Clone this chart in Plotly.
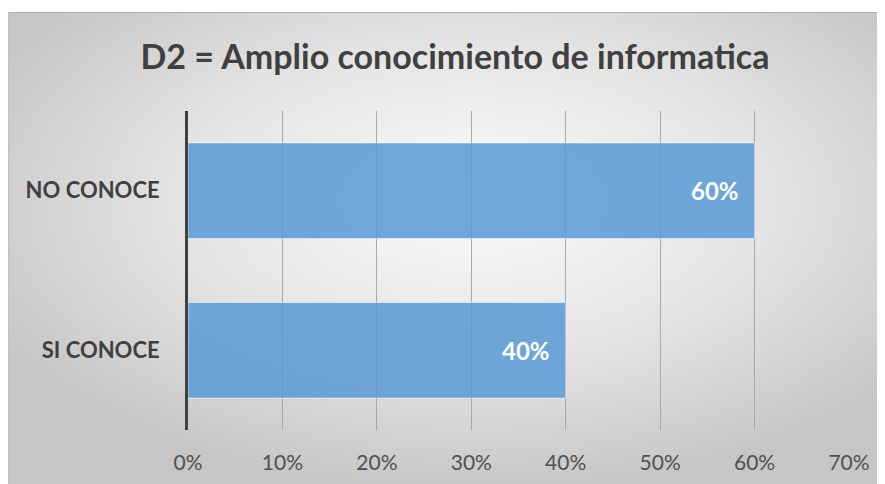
import base64
import plotly.graph_objects as go

categories = ["SI CONOCE", "NO CONOCE"]
values = [0.40, 0.60]
labels = ["40%", "60%"]
tick_vals = [0, 0.1, 0.2, 0.3, 0.4, 0.5, 0.6, 0.7]
tick_text = ["0%", "10%", "20%", "30%", "40%", "50%", "60%", "70%"]
title_text = "D2 = Amplio conocimiento de informatica"

# page body has an 8px margin; figure coordinates are shifted accordingly
OFF = 8
W, H = 885 - OFF, 484 - OFF
ML, MT = 188 - OFF, 111 - OFF
MR = 885 - 849
MB = 484 - 430
FONT = "Lato, 'Open Sans', sans-serif"

IW, IH = W, H - 4
svg = (
    f'<svg xmlns="http://www.w3.org/2000/svg" width="{IW}" height="{IH}" viewBox="0 0 {IW} {IH}" preserveAspectRatio="none">'
    '<defs><radialGradient id="g" cx="0.53" cy="0.40" r="0.62" gradientUnits="objectBoundingBox">'
    '<stop offset="0" stop-color="#fbfbfb"/><stop offset="0.55" stop-color="#e3e3e3"/>'
    '<stop offset="1" stop-color="#c6c6c6"/></radialGradient></defs>'
    f'<rect x="0" y="0" width="{IW}" height="{IH}" fill="url(#g)"/>'
    f'<line x1="0" y1="0.5" x2="{IW}" y2="0.5" stroke="#b0b0b0" stroke-width="1"/>'
    f'<line x1="0.5" y1="0" x2="0.5" y2="{IH}" stroke="#c0c0c0" stroke-width="1"/>'
    '</svg>'
)
src = "data:image/svg+xml;base64," + base64.b64encode(svg.encode()).decode()

pw = W - ML - MR
ph = H - MT - MB
def px2x(px):
    return (px - ML) / pw
def py2y(py):
    return 1 - (py - MT) / ph

fig = go.Figure()
fig.add_trace(go.Bar(
    y=categories, x=values, orientation="h",
    marker=dict(color="#5b9bd5", opacity=0.86, line=dict(color="rgba(255,255,255,0.6)", width=1)),
    width=0.6,
    hoverinfo="skip",
))

annotations = [
    dict(x=v, y=c, xref="x", yref="y", text="<b>" + t + "</b>", showarrow=False,
         xanchor="right", yanchor="middle", xshift=-14,
         font=dict(family=FONT, size=24, color="white"))
    for c, v, t in zip(categories, values, labels)
]

fig.update_layout(
    width=W, height=H,
    margin=dict(l=ML, r=MR, t=MT, b=MB, autoexpand=False),
    paper_bgcolor="white",
    plot_bgcolor="rgba(0,0,0,0)",
    showlegend=False,
    title=dict(text="<b>" + title_text + "</b>", x=(455 - OFF) / W, xanchor="center", xref="container",
               y=1 - (57 - OFF) / H, yanchor="middle", yref="container",
               font=dict(family=FONT, size=34, color="#404040")),
    xaxis=dict(range=[0, 0.7], tickvals=tick_vals, ticktext=tick_text, automargin=False,
               showgrid=True, gridcolor="#a8a8a8", gridwidth=1, zeroline=False,
               showline=False, ticks="", ticklabelstandoff=18,
               tickfont=dict(family=FONT, size=21, color="#505050")),
    yaxis=dict(showgrid=False, zeroline=False, showline=True, linecolor="#404040", linewidth=3,
               ticks="", ticklabelstandoff=21, automargin=False,
               tickfont=dict(family=FONT, size=22, color="#404040", weight="bold")),
    annotations=annotations,
    images=[dict(source=src, xref="paper", yref="paper",
                 x=px2x(0), y=py2y(4), sizex=IW / pw, sizey=IH / ph,
                 xanchor="left", yanchor="top", sizing="stretch", layer="below")],
)

fig.write_html("out.html")
